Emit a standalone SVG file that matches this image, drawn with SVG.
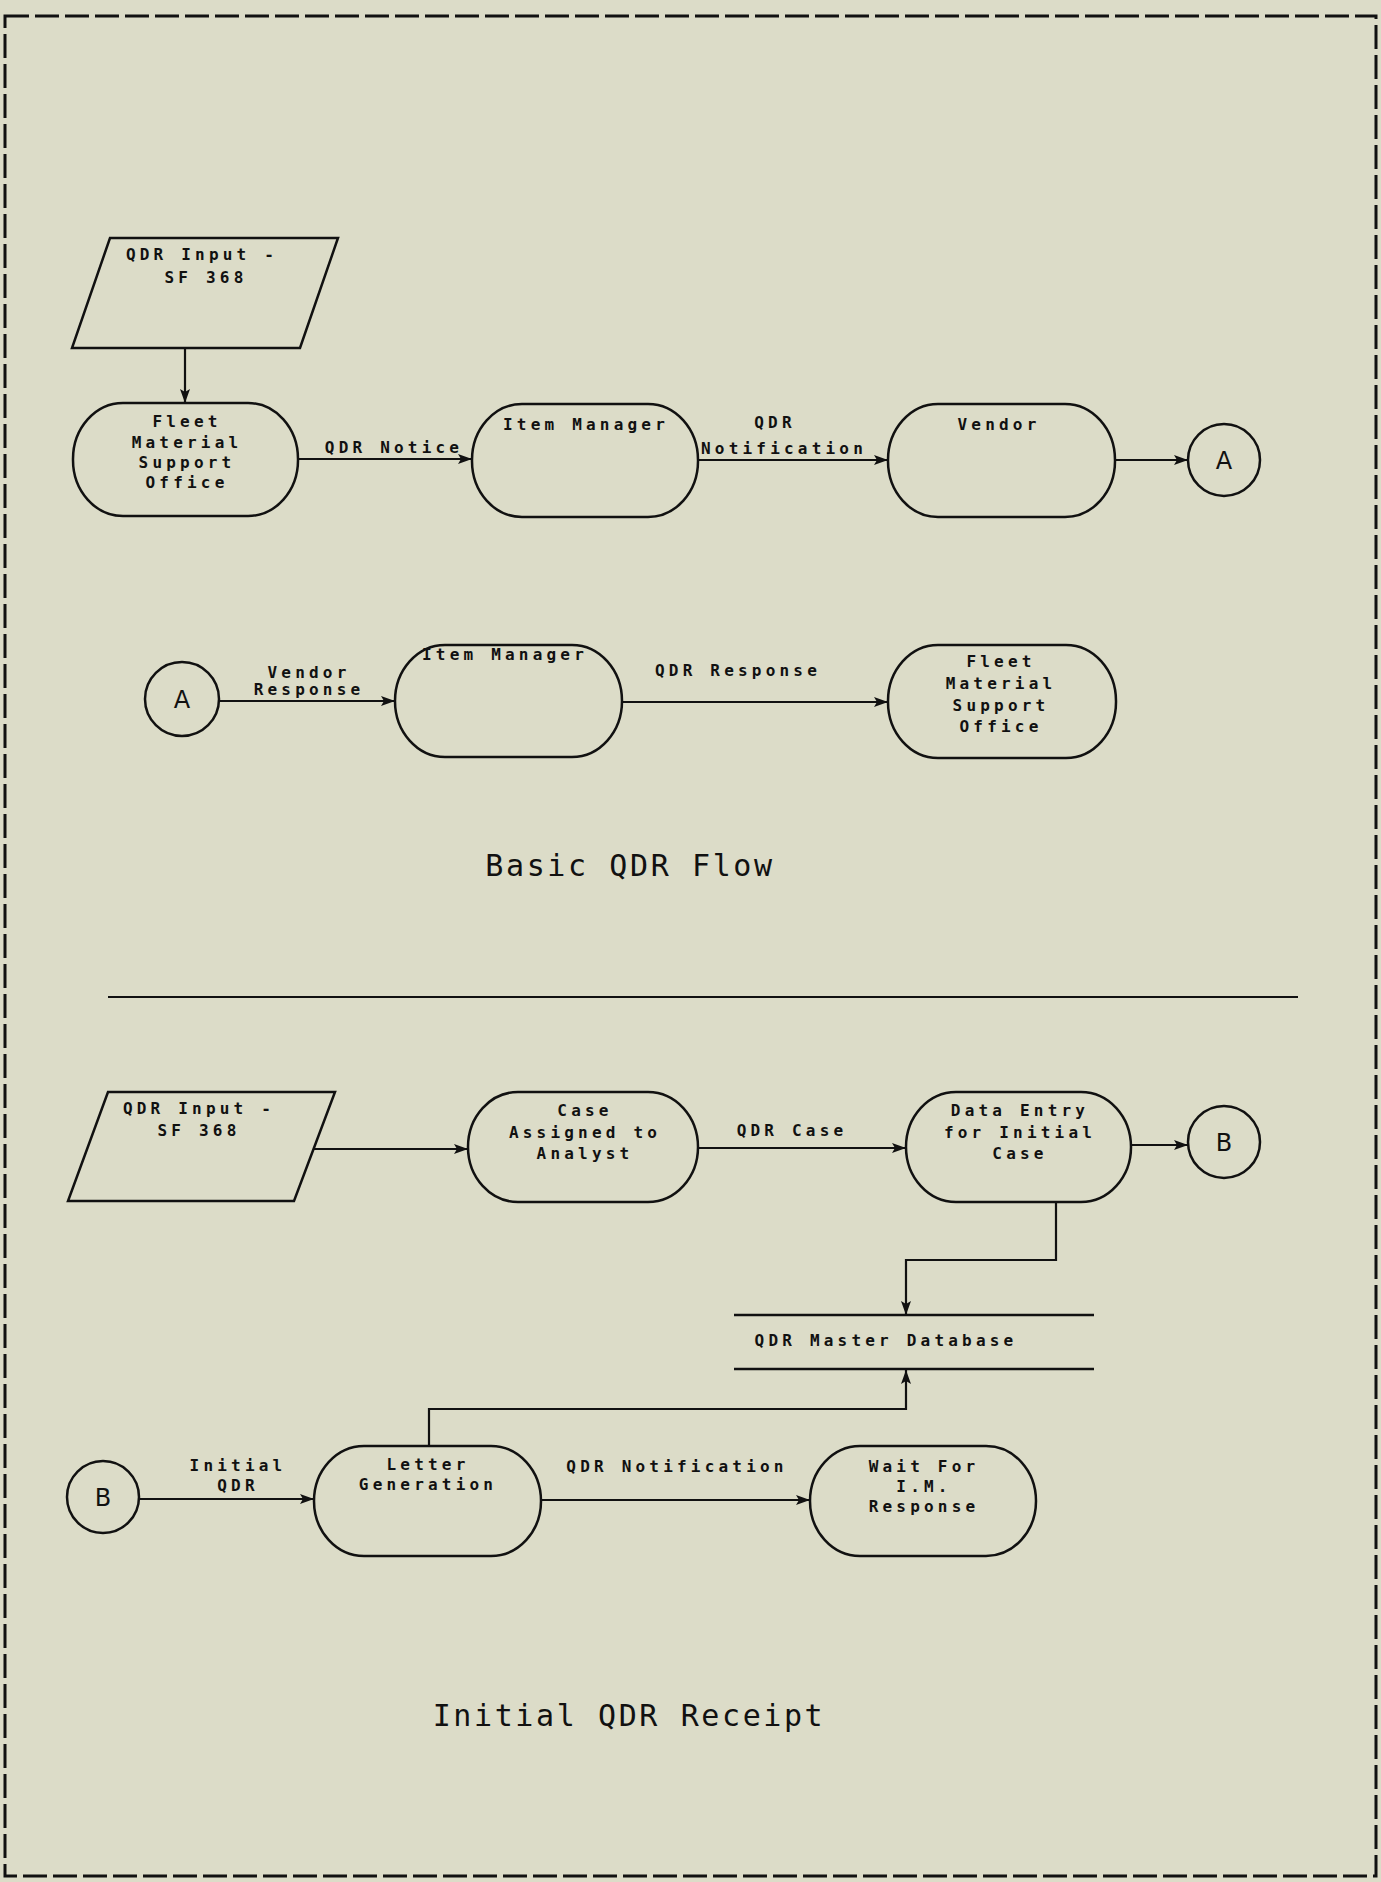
<svg xmlns="http://www.w3.org/2000/svg" width="1381" height="1882" viewBox="0 0 1381 1882">
<defs>
<marker id="arr" viewBox="0 0 14 10" refX="14" refY="5" markerWidth="14" markerHeight="10" orient="auto" markerUnits="userSpaceOnUse">
<path d="M0,0 L14,5 L0,10 L3,5 z" fill="#111"/>
</marker>
<style>
.shape{fill:none;stroke:#111;stroke-width:2.5}
.conn{fill:none;stroke:#111;stroke-width:2.2}
.lbl{font-family:"DejaVu Sans Mono","Liberation Mono",monospace;font-size:16px;font-weight:bold;letter-spacing:4.2px;fill:#111;text-anchor:middle}
.ttl{font-family:"DejaVu Sans Mono","Liberation Mono",monospace;font-size:30px;letter-spacing:2.6px;fill:#111;text-anchor:middle}
.con{font-family:"DejaVu Sans","Liberation Sans",sans-serif;font-size:24px;fill:#111;text-anchor:middle}
</style>
</defs>
<rect x="0" y="0" width="1381" height="1882" fill="#dcdcc8"/>
<rect x="5" y="16" width="1371" height="1860" fill="none" stroke="#111" stroke-width="3" stroke-dasharray="24,6"/>

<g id="connectors">
<line class="conn" x1="185" y1="348" x2="185" y2="403" marker-end="url(#arr)"/>
<line class="conn" x1="298" y1="459" x2="472" y2="459" marker-end="url(#arr)"/>
<line class="conn" x1="698" y1="460" x2="888" y2="460" marker-end="url(#arr)"/>
<line class="conn" x1="1115" y1="460" x2="1188" y2="460" marker-end="url(#arr)"/>
<line class="conn" x1="219" y1="701" x2="395" y2="701" marker-end="url(#arr)"/>
<line class="conn" x1="622" y1="702" x2="888" y2="702" marker-end="url(#arr)"/>
<line class="conn" x1="313" y1="1149" x2="468" y2="1149" marker-end="url(#arr)"/>
<line class="conn" x1="698" y1="1148" x2="906" y2="1148" marker-end="url(#arr)"/>
<line class="conn" x1="1130" y1="1145" x2="1188" y2="1145" marker-end="url(#arr)"/>
<polyline class="conn" points="1056,1202 1056,1260 906,1260 906,1315" marker-end="url(#arr)"/>
<polyline class="conn" points="429,1446 429,1409 906,1409 906,1370" marker-end="url(#arr)"/>
<line class="conn" x1="139" y1="1499" x2="314" y2="1499" marker-end="url(#arr)"/>
<line class="conn" x1="541" y1="1500" x2="810" y2="1500" marker-end="url(#arr)"/>
<text class="lbl" x="394" y="453">QDR Notice</text>
<text class="lbl" x="775" y="428">QDR</text>
<text class="lbl" x="784" y="454">Notification</text>
<text class="lbl" x="309" y="678">Vendor</text>
<text class="lbl" x="309" y="695">Response</text>
<text class="lbl" x="738" y="676">QDR Response</text>
<text class="lbl" x="792" y="1136">QDR Case</text>
<text class="lbl" x="238" y="1471">Initial</text>
<text class="lbl" x="238" y="1491">QDR</text>
<text class="lbl" x="677" y="1472">QDR Notification</text>
</g>

<g id="input1">
<polygon class="shape" points="110,238 338,238 300,348 72,348"/>
<text class="lbl" x="202" y="260">QDR Input -</text>
<text class="lbl" x="206" y="283">SF 368</text>
</g>
<g id="fmso1">
<rect class="shape" x="73" y="403" width="225" height="113" rx="50" ry="56"/>
<text class="lbl" x="187" y="427">Fleet</text>
<text class="lbl" x="187" y="448">Material</text>
<text class="lbl" x="187" y="468">Support</text>
<text class="lbl" x="187" y="488">Office</text>
</g>
<g id="im1">
<rect class="shape" x="472" y="404" width="226" height="113" rx="50" ry="56"/>
<text class="lbl" x="586" y="430">Item Manager</text>
</g>
<g id="vendor">
<rect class="shape" x="888" y="404" width="227" height="113" rx="50" ry="56"/>
<text class="lbl" x="999" y="430">Vendor</text>
</g>
<g id="connA1">
<circle class="shape" cx="1224" cy="460" r="36"/>
<text class="con" x="1224" y="469">A</text>
</g>
<g id="connA2">
<circle class="shape" cx="182" cy="699" r="37"/>
<text class="con" x="182" y="708">A</text>
</g>
<g id="im2">
<rect class="shape" x="395" y="645" width="227" height="112" rx="50" ry="56"/>
<text class="lbl" x="505" y="660">Item Manager</text>
</g>
<g id="fmso2">
<rect class="shape" x="888" y="645" width="228" height="113" rx="50" ry="56"/>
<text class="lbl" x="1001" y="667">Fleet</text>
<text class="lbl" x="1001" y="689">Material</text>
<text class="lbl" x="1001" y="711">Support</text>
<text class="lbl" x="1001" y="732">Office</text>
</g>
<g id="title1">
<text class="ttl" x="630" y="876">Basic QDR Flow</text>
</g>
<line x1="108" y1="997" x2="1298" y2="997" stroke="#111" stroke-width="2"/>

<g id="input2">
<polygon class="shape" points="108,1092 335,1092 294,1201 68,1201"/>
<text class="lbl" x="199" y="1114">QDR Input -</text>
<text class="lbl" x="199" y="1136">SF 368</text>
</g>
<g id="case">
<rect class="shape" x="468" y="1092" width="230" height="110" rx="50" ry="55"/>
<text class="lbl" x="585" y="1116">Case</text>
<text class="lbl" x="585" y="1138">Assigned to</text>
<text class="lbl" x="585" y="1159">Analyst</text>
</g>
<g id="dataentry">
<rect class="shape" x="906" y="1092" width="225" height="110" rx="50" ry="55"/>
<text class="lbl" x="1020" y="1116">Data Entry</text>
<text class="lbl" x="1020" y="1138">for Initial</text>
<text class="lbl" x="1020" y="1159">Case</text>
</g>
<g id="connB1">
<circle class="shape" cx="1224" cy="1142" r="36"/>
<text class="con" x="1224" y="1151">B</text>
</g>
<g id="database">
<line class="shape" x1="734" y1="1315" x2="1094" y2="1315"/>
<line class="shape" x1="734" y1="1369" x2="1094" y2="1369"/>
<text class="lbl" x="886" y="1346">QDR Master Database</text>
</g>
<g id="connB2">
<circle class="shape" cx="103" cy="1497" r="36"/>
<text class="con" x="103" y="1506">B</text>
</g>
<g id="lettergen">
<rect class="shape" x="314" y="1446" width="227" height="110" rx="50" ry="55"/>
<text class="lbl" x="428" y="1470">Letter</text>
<text class="lbl" x="428" y="1490">Generation</text>
</g>
<g id="wait">
<rect class="shape" x="810" y="1446" width="226" height="110" rx="50" ry="55"/>
<text class="lbl" x="924" y="1472">Wait For</text>
<text class="lbl" x="924" y="1492">I.M.</text>
<text class="lbl" x="924" y="1512">Response</text>
</g>
<g id="title2">
<text class="ttl" x="629" y="1726">Initial QDR Receipt</text>
</g>
</svg>
